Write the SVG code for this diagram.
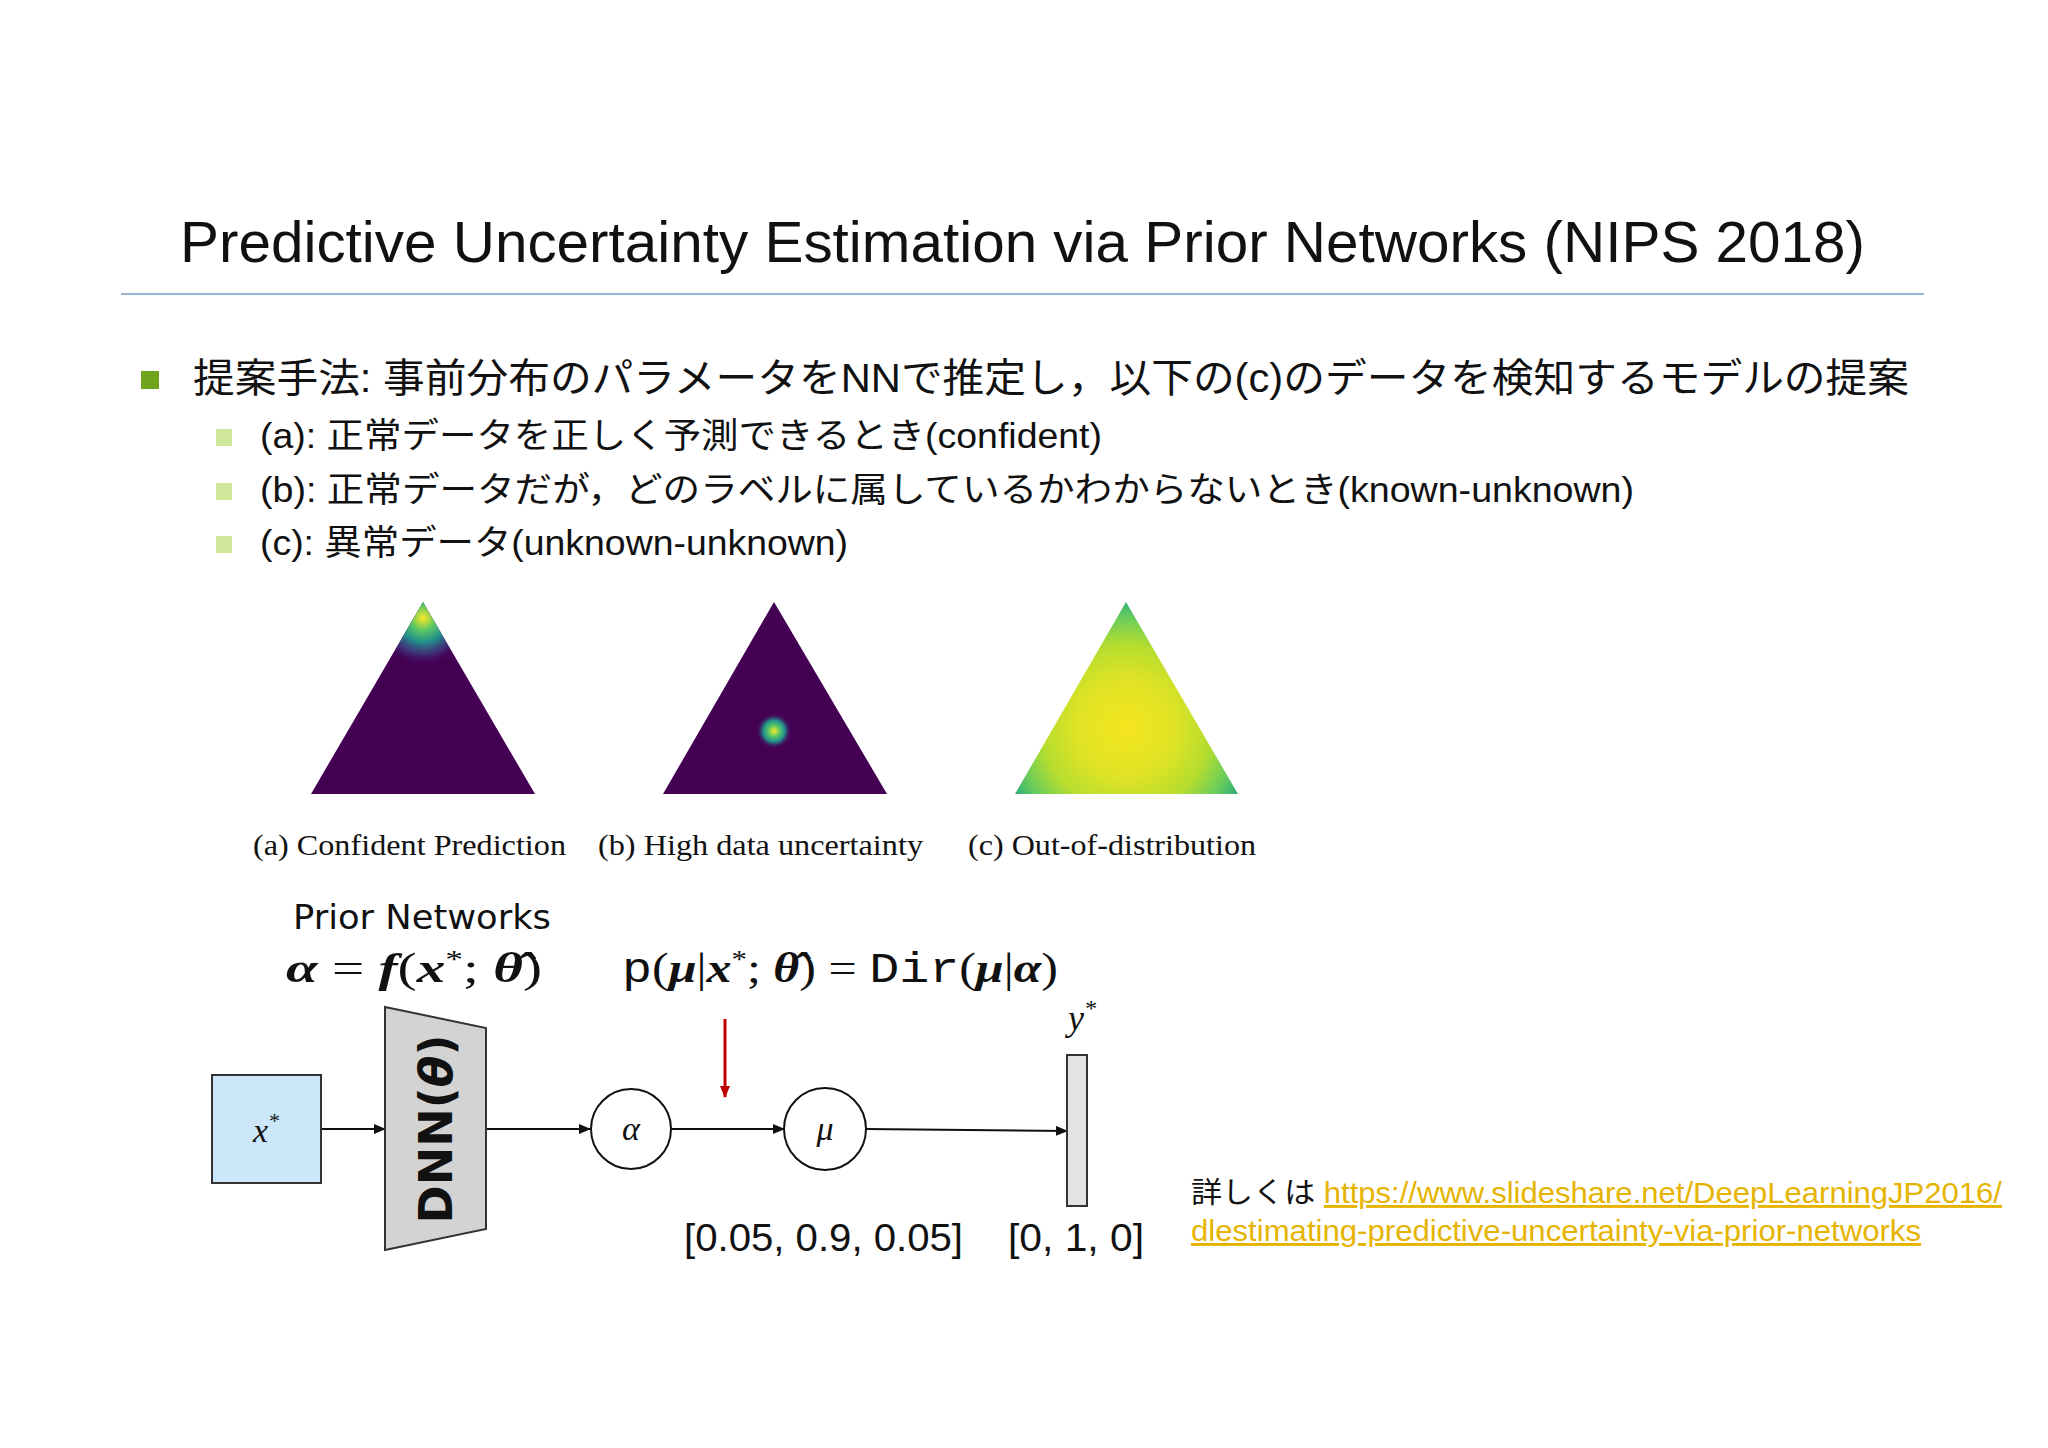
<svg xmlns="http://www.w3.org/2000/svg" width="2048" height="1448" viewBox="0 0 2048 1448">
<style>
.jp{font-family:"Liberation Sans","Noto Sans CJK JP",sans-serif;fill:#111}
.cap{font-family:"Liberation Serif",serif;font-size:30px;fill:#111}
.m{font-family:"Liberation Serif",serif;font-style:italic;fill:#111}
.ln{stroke:#111;stroke-width:2;fill:none}
</style>
<defs>
<marker id="ah" markerWidth="12" markerHeight="10" refX="11" refY="5" orient="auto" markerUnits="userSpaceOnUse"><path d="M0,0 L12,5 L0,10 z" fill="#111"/></marker>
<marker id="ahr" markerWidth="10" markerHeight="12" refX="5" refY="11" orient="0" markerUnits="userSpaceOnUse"><path d="M0,0 L10,0 L5,12 z" fill="#c00000"/></marker>
<radialGradient id="ga" cx="423" cy="618" r="48" gradientUnits="userSpaceOnUse"><stop offset="0" stop-color="#fde725"/><stop offset="0.25" stop-color="#5ec962"/><stop offset="0.5" stop-color="#21918c"/><stop offset="0.75" stop-color="#3b528b" stop-opacity="0.6"/><stop offset="1" stop-color="#440154" stop-opacity="0"/></radialGradient>
<radialGradient id="gb" cx="774" cy="731" r="18" gradientUnits="userSpaceOnUse"><stop offset="0" stop-color="#fde725"/><stop offset="0.3" stop-color="#5ec962"/><stop offset="0.6" stop-color="#21918c"/><stop offset="1" stop-color="#440154" stop-opacity="0"/></radialGradient>
<radialGradient id="gc" cx="1126" cy="728" r="140" gradientUnits="userSpaceOnUse"><stop offset="0" stop-color="#f5e51f"/><stop offset="0.35" stop-color="#e0e325"/><stop offset="0.6" stop-color="#b5dd2f"/><stop offset="0.78" stop-color="#6ccd5a"/><stop offset="0.92" stop-color="#2fae7b"/><stop offset="1" stop-color="#22838d"/></radialGradient>
</defs>
<rect width="2048" height="1448" fill="#fff"/>
<text x="180" y="262" font-family="Liberation Sans,sans-serif" font-size="58" fill="#111" textLength="1685" lengthAdjust="spacingAndGlyphs">Predictive Uncertainty Estimation via Prior Networks (NIPS 2018)</text>
<line x1="121" y1="294" x2="1924" y2="294" stroke="#9ab8d4" stroke-width="2"/>
<rect x="141" y="371" width="18" height="18" fill="#6fa51c"/>
<text class="jp" x="193" y="392" font-size="40" textLength="1716" lengthAdjust="spacingAndGlyphs">提案手法: 事前分布のパラメータをNNで推定し，以下の(c)のデータを検知するモデルの提案</text>
<rect x="216" y="429" width="16" height="17" fill="#cfe89a"/>
<rect x="216" y="483" width="16" height="17" fill="#cfe89a"/>
<rect x="216" y="536" width="16" height="17" fill="#cfe89a"/>
<text class="jp" x="260" y="448" font-size="35" textLength="842" lengthAdjust="spacingAndGlyphs">(a): 正常データを正しく予測できるとき(confident)</text>
<text class="jp" x="260" y="502" font-size="35" textLength="1374" lengthAdjust="spacingAndGlyphs">(b): 正常データだが，どのラベルに属しているかわからないとき(known-unknown)</text>
<text class="jp" x="260" y="555" font-size="35" textLength="588" lengthAdjust="spacingAndGlyphs">(c): 異常データ(unknown-unknown)</text>
<g id="tri-a"><polygon points="423,602 311,794 535,794" fill="#440154"/><polygon points="423,602 311,794 535,794" fill="url(#ga)"/></g>
<g id="tri-b"><polygon points="774,602 663,794 887,794" fill="#440154"/><circle cx="774" cy="731" r="18" fill="url(#gb)"/></g>
<g id="tri-c"><polygon points="1126,602 1015,794 1238,794" fill="url(#gc)"/></g>
<text class="cap" x="253" y="855" textLength="313" lengthAdjust="spacingAndGlyphs">(a)  Confident Prediction</text>
<text class="cap" x="598" y="855" textLength="325" lengthAdjust="spacingAndGlyphs">(b)  High data uncertainty</text>
<text class="cap" x="968" y="855" textLength="288" lengthAdjust="spacingAndGlyphs">(c)  Out-of-distribution</text>
<text x="293" y="929" font-family="DejaVu Sans,sans-serif" font-size="34" fill="#111" textLength="258" lengthAdjust="spacingAndGlyphs">Prior Networks</text>
<text x="286" y="982" font-family="Liberation Serif,serif" font-size="42" fill="#111" textLength="256" lengthAdjust="spacingAndGlyphs"><tspan font-weight="bold" font-style="italic">α</tspan> =  <tspan font-weight="bold" font-style="italic">f</tspan>(<tspan font-weight="bold" font-style="italic">x</tspan><tspan font-size="26" dy="-14">*</tspan><tspan dy="14">;</tspan> <tspan font-weight="bold" font-style="italic">θ̂</tspan>)</text>
<text x="622" y="982" font-family="Liberation Serif,serif" font-size="42" fill="#111" textLength="436" lengthAdjust="spacingAndGlyphs"><tspan font-family="Liberation Mono,monospace">p</tspan>(<tspan font-weight="bold" font-style="italic">μ</tspan>|<tspan font-weight="bold" font-style="italic">x</tspan><tspan font-size="26" dy="-14">*</tspan><tspan dy="14">;</tspan> <tspan font-weight="bold" font-style="italic">θ̂</tspan>) = <tspan font-family="Liberation Mono,monospace">Dir</tspan>(<tspan font-weight="bold" font-style="italic">μ</tspan>|<tspan font-weight="bold" font-style="italic">α</tspan>)</text>
<g id="connectors">
<line class="ln" x1="321" y1="1129" x2="385" y2="1129" marker-end="url(#ah)"/>
<line class="ln" x1="486" y1="1129" x2="590" y2="1129" marker-end="url(#ah)"/>
<line class="ln" x1="671" y1="1129" x2="784" y2="1129" marker-end="url(#ah)"/>
<line class="ln" x1="866" y1="1129" x2="1067" y2="1131" marker-end="url(#ah)"/>
<line x1="725" y1="1019" x2="725" y2="1097" stroke="#c00000" stroke-width="3" marker-end="url(#ahr)"/>
</g>
<g id="node-x"><rect x="212" y="1075" width="109" height="108" fill="#cce6fa" stroke="#333" stroke-width="2"/><text class="m" x="266" y="1142" font-size="34" text-anchor="middle">x<tspan font-size="22" dy="-14">*</tspan></text></g>
<g id="node-dnn"><polygon points="385,1007 486,1028 486,1229 385,1250" fill="#d3d3d3" stroke="#333" stroke-width="2"/><text transform="translate(452,1129) rotate(-90)" text-anchor="middle" font-family="DejaVu Sans,sans-serif" font-weight="bold" font-size="46" fill="#111">DNN(<tspan font-style="italic">θ</tspan>)</text></g>
<g id="node-alpha"><circle cx="631" cy="1129" r="40" fill="#fff" stroke="#111" stroke-width="2"/><text class="m" x="631" y="1140" font-size="34" text-anchor="middle">α</text></g>
<g id="node-mu"><circle cx="825" cy="1129" r="41" fill="#fff" stroke="#111" stroke-width="2"/><text class="m" x="825" y="1140" font-size="34" text-anchor="middle">μ</text></g>
<g id="node-y"><rect x="1067" y="1055" width="20" height="151" fill="#e3e3e3" stroke="#333" stroke-width="2"/><text class="m" x="1068" y="1030" font-size="36">y<tspan font-size="24" dy="-14">*</tspan></text></g>
<text x="684" y="1251" font-family="Liberation Sans,sans-serif" font-size="38" fill="#111" textLength="279" lengthAdjust="spacingAndGlyphs">[0.05, 0.9, 0.05]</text>
<text x="1008" y="1251" font-family="Liberation Sans,sans-serif" font-size="38" fill="#111" textLength="136" lengthAdjust="spacingAndGlyphs">[0, 1, 0]</text>
<text x="1191" y="1203" font-family="Liberation Sans,Noto Sans CJK JP,sans-serif" font-size="29" fill="#111" textLength="811" lengthAdjust="spacingAndGlyphs">詳しくは <tspan fill="#e6b400" text-decoration="underline">https://www.slideshare.net/DeepLearningJP2016/</tspan></text>
<text x="1191" y="1241" font-family="Liberation Sans,Noto Sans CJK JP,sans-serif" font-size="29" fill="#e6b400" text-decoration="underline" textLength="730" lengthAdjust="spacingAndGlyphs">dlestimating-predictive-uncertainty-via-prior-networks</text>
</svg>
